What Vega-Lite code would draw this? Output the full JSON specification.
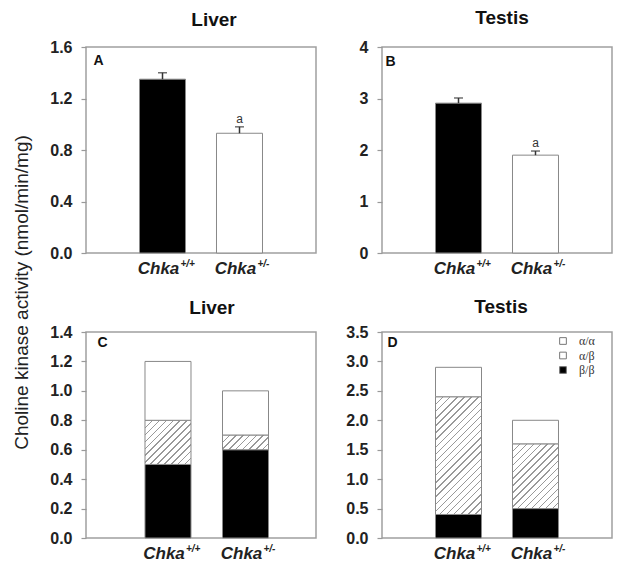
{
  "$schema": "https://vega.github.io/schema/vega-lite/v6.json",
  "background": "white",
  "padding": {"left": 11, "top": 8, "right": 0, "bottom": 0},
  "autosize": {"type": "pad"},
  "bounds": "flush",
  "columns": 2,
  "spacing": {"row": 79, "column": 66},
  "resolve": {
    "scale": {"x": "independent", "y": "independent", "fill": "independent"},
    "axis": {"x": "independent", "y": "independent"},
    "legend": {"fill": "independent"}
  },
  "config": {
    "font": "Liberation Sans",
    "view": {"stroke": "#a0a0a0", "strokeWidth": 1.5},
    "title": {"fontSize": 19, "fontWeight": "bold", "color": "#111", "baseline": "alphabetic", "frame": "group", "anchor": "middle"},
    "axis": {"domain": false, "grid": false, "labelFontWeight": "bold", "labelFontSize": 16, "labelColor": "#222", "tickColor": "#999", "tickWidth": 1.2, "tickSize": 5, "labelPadding": 9, "labelOverlap": false, "labelBound": false, "labelFlush": false},
    "axisX": {"ticks": false, "labelFontStyle": "italic", "labelFontSize": 17, "labelPadding": 7, "labelAngle": 0, "labelOffset": -4, "titleAlign": "left", "titleBaseline": "middle", "titleFontSize": 14, "titleFontWeight": "bold", "titleColor": "#111", "titleAngle": 0},
    "axisY": {"titleFontSize": 19, "titleFontWeight": "normal", "titleColor": "#222"}
  },
  "concat": [
    {
      "width": 230, "height": 206,
      "title": {"text": "Liver", "offset": 9, "dx": 13},
      "data": {"values": [
        {"genotype": "+/+", "activity": 1.35, "upper": 1.40, "sig": ""},
        {"genotype": "+/-", "activity": 0.93, "upper": 0.98, "sig": "a"}
      ]},
      "encoding": {"x": {"field": "genotype", "type": "nominal", "sort": ["+/+", "+/-"], "scale": {"paddingInner": 0.4026, "paddingOuter": 0.695}, "title": "A", "axis": {"labelExpr": "'Chka'", "titleX": 7, "titleY": -193}}},
      "layer": [
        {"mark": {"type": "bar", "stroke": "#888", "strokeWidth": 1},
         "encoding": {
           "y": {"field": "activity", "type": "quantitative", "scale": {"domain": [0, 1.6], "nice": false}, "title": "Choline kinase activity (nmol/min/mg)", "axis": {"values": [0, 0.4, 0.8, 1.2, 1.6], "tickCount": 10, "format": ".1f", "titleX": -65, "titleY": 245, "titleAngle": -90, "titleAlign": "center", "titleBaseline": "middle"}},
           "fill": {"field": "genotype", "type": "nominal", "scale": {"domain": ["+/+", "+/-"], "range": ["#000000", "#ffffff"]}, "legend": null}
         }},
        {"mark": {"type": "rule", "color": "#333", "strokeWidth": 1.5},
         "encoding": {"y": {"field": "activity", "type": "quantitative", "title": "Choline kinase activity (nmol/min/mg)"}, "y2": {"field": "upper"}}},
        {"mark": {"type": "tick", "color": "#333", "thickness": 1.5, "size": 9},
         "encoding": {"y": {"field": "upper", "type": "quantitative", "title": "Choline kinase activity (nmol/min/mg)"}}},
        {"mark": {"type": "text", "baseline": "bottom", "dy": -1, "fontSize": 12, "color": "#333"},
         "encoding": {"y": {"field": "upper", "type": "quantitative", "title": "Choline kinase activity (nmol/min/mg)"}, "text": {"field": "sig"}}},
        {"mark": {"type": "text", "align": "left", "baseline": "top", "dx": 18, "dy": 6, "fontSize": 10, "fontWeight": "bold", "fontStyle": "italic", "color": "#222"},
         "encoding": {"y": {"datum": 0, "title": "Choline kinase activity (nmol/min/mg)"}, "text": {"field": "genotype"}}}
      ]
    },
    {
      "width": 230, "height": 206,
      "title": {"text": "Testis", "offset": 11, "dx": 5},
      "data": {"values": [
        {"genotype": "+/+", "activity": 2.91, "upper": 3.01, "sig": ""},
        {"genotype": "+/-", "activity": 1.90, "upper": 1.98, "sig": "a"}
      ]},
      "encoding": {"x": {"field": "genotype", "type": "nominal", "sort": ["+/+", "+/-"], "scale": {"paddingInner": 0.4026, "paddingOuter": 0.695}, "title": "B", "axis": {"labelExpr": "'Chka'", "titleX": 3, "titleY": -192}}},
      "layer": [
        {"mark": {"type": "bar", "stroke": "#888", "strokeWidth": 1},
         "encoding": {
           "y": {"field": "activity", "type": "quantitative", "scale": {"domain": [0, 4], "nice": false}, "title": null, "axis": {"values": [0, 1, 2, 3, 4], "tickCount": 10, "format": "d"}},
           "fill": {"field": "genotype", "type": "nominal", "scale": {"domain": ["+/+", "+/-"], "range": ["#000000", "#ffffff"]}, "legend": null}
         }},
        {"mark": {"type": "rule", "color": "#333", "strokeWidth": 1.5},
         "encoding": {"y": {"field": "activity", "type": "quantitative", "title": null}, "y2": {"field": "upper"}}},
        {"mark": {"type": "tick", "color": "#333", "thickness": 1.5, "size": 9},
         "encoding": {"y": {"field": "upper", "type": "quantitative", "title": null}}},
        {"mark": {"type": "text", "baseline": "bottom", "dy": -1, "fontSize": 12, "color": "#333"},
         "encoding": {"y": {"field": "upper", "type": "quantitative", "title": null}, "text": {"field": "sig"}}},
        {"mark": {"type": "text", "align": "left", "baseline": "top", "dx": 18, "dy": 6, "fontSize": 10, "fontWeight": "bold", "fontStyle": "italic", "color": "#222"},
         "encoding": {"y": {"datum": 0, "title": null}, "text": {"field": "genotype"}}}
      ]
    },
    {
      "width": 230, "height": 206,
      "title": {"text": "Liver", "offset": 6, "dx": 11},
      "encoding": {"x": {"field": "genotype", "type": "nominal", "sort": ["+/+", "+/-"], "scale": {"paddingInner": 0.4065, "paddingOuter": 0.687, "align": 0.554}, "title": "C", "axis": {"labelExpr": "'Chka'", "titleX": 11, "titleY": -196}}},
      "layer": [
        {"data": {"values": [
          {"genotype": "+/+", "isoform": "β/β", "activity": 0.5},
          {"genotype": "+/+", "isoform": "α/β", "activity": 0.3},
          {"genotype": "+/+", "isoform": "α/α", "activity": 0.4},
          {"genotype": "+/-", "isoform": "β/β", "activity": 0.6},
          {"genotype": "+/-", "isoform": "α/β", "activity": 0.1},
          {"genotype": "+/-", "isoform": "α/α", "activity": 0.3}
        ]},
         "mark": {"type": "bar", "stroke": "#888", "strokeWidth": 1},
         "encoding": {
           "y": {"field": "activity", "type": "quantitative", "stack": "zero", "scale": {"domain": [0, 1.4], "nice": false}, "title": null, "axis": {"values": [0, 0.2, 0.4, 0.6, 0.8, 1.0, 1.2, 1.4], "tickCount": 10, "format": ".1f"}},
           "order": {"field": "isoform", "type": "nominal", "sort": "descending"},
           "fill": {"field": "isoform", "type": "nominal", "scale": {"domain": ["α/α", "α/β", "β/β"], "range": ["#ffffff", "#ffffff", "#000000"]}, "legend": null,
             "condition": [
               {"test": "datum.isoform === 'α/β' && datum.genotype === '+/+'", "value": {"gradient": "linear", "x1": 0, "y1": 0, "x2": 1.02, "y2": 0.979, "stops": [
                 {"offset": 0, "color": "#999"}, {"offset": 0.0154, "color": "#999"}, {"offset": 0.0154, "color": "#fff"}, {"offset": 0.0769, "color": "#fff"},
                 {"offset": 0.0769, "color": "#999"}, {"offset": 0.0923, "color": "#999"}, {"offset": 0.0923, "color": "#fff"}, {"offset": 0.1538, "color": "#fff"},
                 {"offset": 0.1538, "color": "#999"}, {"offset": 0.1692, "color": "#999"}, {"offset": 0.1692, "color": "#fff"}, {"offset": 0.2308, "color": "#fff"},
                 {"offset": 0.2308, "color": "#999"}, {"offset": 0.2462, "color": "#999"}, {"offset": 0.2462, "color": "#fff"}, {"offset": 0.3077, "color": "#fff"},
                 {"offset": 0.3077, "color": "#999"}, {"offset": 0.3231, "color": "#999"}, {"offset": 0.3231, "color": "#fff"}, {"offset": 0.3846, "color": "#fff"},
                 {"offset": 0.3846, "color": "#999"}, {"offset": 0.4, "color": "#999"}, {"offset": 0.4, "color": "#fff"}, {"offset": 0.4615, "color": "#fff"},
                 {"offset": 0.4615, "color": "#999"}, {"offset": 0.4769, "color": "#999"}, {"offset": 0.4769, "color": "#fff"}, {"offset": 0.5385, "color": "#fff"},
                 {"offset": 0.5385, "color": "#999"}, {"offset": 0.5538, "color": "#999"}, {"offset": 0.5538, "color": "#fff"}, {"offset": 0.6154, "color": "#fff"},
                 {"offset": 0.6154, "color": "#999"}, {"offset": 0.6308, "color": "#999"}, {"offset": 0.6308, "color": "#fff"}, {"offset": 0.6923, "color": "#fff"},
                 {"offset": 0.6923, "color": "#999"}, {"offset": 0.7077, "color": "#999"}, {"offset": 0.7077, "color": "#fff"}, {"offset": 0.7692, "color": "#fff"},
                 {"offset": 0.7692, "color": "#999"}, {"offset": 0.7846, "color": "#999"}, {"offset": 0.7846, "color": "#fff"}, {"offset": 0.8462, "color": "#fff"},
                 {"offset": 0.8462, "color": "#999"}, {"offset": 0.8615, "color": "#999"}, {"offset": 0.8615, "color": "#fff"}, {"offset": 0.9231, "color": "#fff"},
                 {"offset": 0.9231, "color": "#999"}, {"offset": 0.9385, "color": "#999"}, {"offset": 0.9385, "color": "#fff"}, {"offset": 1, "color": "#fff"}
               ]}},
               {"test": "datum.isoform === 'α/β' && datum.genotype === '+/-'", "value": {"gradient": "linear", "x1": 0, "y1": 0, "x2": 1.197, "y2": 0.383, "stops": [
                 {"offset": 0, "color": "#999"}, {"offset": 0.0222, "color": "#999"}, {"offset": 0.0222, "color": "#fff"}, {"offset": 0.1111, "color": "#fff"},
                 {"offset": 0.1111, "color": "#999"}, {"offset": 0.1333, "color": "#999"}, {"offset": 0.1333, "color": "#fff"}, {"offset": 0.2222, "color": "#fff"},
                 {"offset": 0.2222, "color": "#999"}, {"offset": 0.2444, "color": "#999"}, {"offset": 0.2444, "color": "#fff"}, {"offset": 0.3333, "color": "#fff"},
                 {"offset": 0.3333, "color": "#999"}, {"offset": 0.3556, "color": "#999"}, {"offset": 0.3556, "color": "#fff"}, {"offset": 0.4444, "color": "#fff"},
                 {"offset": 0.4444, "color": "#999"}, {"offset": 0.4667, "color": "#999"}, {"offset": 0.4667, "color": "#fff"}, {"offset": 0.5556, "color": "#fff"},
                 {"offset": 0.5556, "color": "#999"}, {"offset": 0.5778, "color": "#999"}, {"offset": 0.5778, "color": "#fff"}, {"offset": 0.6667, "color": "#fff"},
                 {"offset": 0.6667, "color": "#999"}, {"offset": 0.6889, "color": "#999"}, {"offset": 0.6889, "color": "#fff"}, {"offset": 0.7778, "color": "#fff"},
                 {"offset": 0.7778, "color": "#999"}, {"offset": 0.8, "color": "#999"}, {"offset": 0.8, "color": "#fff"}, {"offset": 0.8889, "color": "#fff"},
                 {"offset": 0.8889, "color": "#999"}, {"offset": 0.9111, "color": "#999"}, {"offset": 0.9111, "color": "#fff"}, {"offset": 1, "color": "#fff"}
               ]}}
             ]}
         }},
        {"data": {"values": [{"genotype": "+/+"}, {"genotype": "+/-"}]},
         "mark": {"type": "text", "align": "left", "baseline": "top", "dx": 18, "dy": 6, "fontSize": 10, "fontWeight": "bold", "fontStyle": "italic", "color": "#222"},
         "encoding": {"y": {"datum": 0, "title": null}, "text": {"field": "genotype"}}}
      ]
    },
    {
      "width": 230, "height": 206,
      "title": {"text": "Testis", "offset": 7, "dx": 4},
      "encoding": {"x": {"field": "genotype", "type": "nominal", "sort": ["+/+", "+/-"], "scale": {"paddingInner": 0.4026, "paddingOuter": 0.695}, "title": "D", "axis": {"labelExpr": "'Chka'", "titleX": 5, "titleY": -196}}},
      "layer": [
        {"data": {"values": [
          {"genotype": "+/+", "isoform": "β/β", "activity": 0.4},
          {"genotype": "+/+", "isoform": "α/β", "activity": 2.0},
          {"genotype": "+/+", "isoform": "α/α", "activity": 0.5},
          {"genotype": "+/-", "isoform": "β/β", "activity": 0.5},
          {"genotype": "+/-", "isoform": "α/β", "activity": 1.1},
          {"genotype": "+/-", "isoform": "α/α", "activity": 0.4}
        ]},
         "mark": {"type": "bar", "stroke": "#888", "strokeWidth": 1},
         "encoding": {
           "y": {"field": "activity", "type": "quantitative", "stack": "zero", "scale": {"domain": [0, 3.5], "nice": false}, "title": null, "axis": {"values": [0, 0.5, 1.0, 1.5, 2.0, 2.5, 3.0, 3.5], "tickCount": 10, "format": ".1f"}},
           "order": {"field": "isoform", "type": "nominal", "sort": "descending"},
           "fill": {"field": "isoform", "type": "nominal", "scale": {"domain": ["α/α", "α/β", "β/β"], "range": ["#ffffff", "#ffffff", "#000000"]},
             "legend": {"orient": "none", "legendX": 175, "legendY": 3, "title": null, "symbolType": "square", "symbolSize": 45, "symbolStrokeColor": "#777", "symbolStrokeWidth": 1, "labelFont": "Liberation Serif", "labelFontSize": 12, "labelOffset": 10, "rowPadding": 2.5, "padding": 0, "labelColor": "#333"},
             "condition": [
               {"test": "datum.isoform === 'α/β' && datum.genotype === '+/+'", "value": {"gradient": "linear", "x1": 0, "y1": 0, "x2": 0.4715, "y2": 1.2065, "stops": [
                 {"offset": 0, "color": "#999"}, {"offset": 0.0087, "color": "#999"}, {"offset": 0.0087, "color": "#fff"}, {"offset": 0.0435, "color": "#fff"},
                 {"offset": 0.0435, "color": "#999"}, {"offset": 0.0522, "color": "#999"}, {"offset": 0.0522, "color": "#fff"}, {"offset": 0.087, "color": "#fff"},
                 {"offset": 0.087, "color": "#999"}, {"offset": 0.0957, "color": "#999"}, {"offset": 0.0957, "color": "#fff"}, {"offset": 0.1304, "color": "#fff"},
                 {"offset": 0.1304, "color": "#999"}, {"offset": 0.1391, "color": "#999"}, {"offset": 0.1391, "color": "#fff"}, {"offset": 0.1739, "color": "#fff"},
                 {"offset": 0.1739, "color": "#999"}, {"offset": 0.1826, "color": "#999"}, {"offset": 0.1826, "color": "#fff"}, {"offset": 0.2174, "color": "#fff"},
                 {"offset": 0.2174, "color": "#999"}, {"offset": 0.2261, "color": "#999"}, {"offset": 0.2261, "color": "#fff"}, {"offset": 0.2609, "color": "#fff"},
                 {"offset": 0.2609, "color": "#999"}, {"offset": 0.2696, "color": "#999"}, {"offset": 0.2696, "color": "#fff"}, {"offset": 0.3043, "color": "#fff"},
                 {"offset": 0.3043, "color": "#999"}, {"offset": 0.313, "color": "#999"}, {"offset": 0.313, "color": "#fff"}, {"offset": 0.3478, "color": "#fff"},
                 {"offset": 0.3478, "color": "#999"}, {"offset": 0.3565, "color": "#999"}, {"offset": 0.3565, "color": "#fff"}, {"offset": 0.3913, "color": "#fff"},
                 {"offset": 0.3913, "color": "#999"}, {"offset": 0.4, "color": "#999"}, {"offset": 0.4, "color": "#fff"}, {"offset": 0.4348, "color": "#fff"},
                 {"offset": 0.4348, "color": "#999"}, {"offset": 0.4435, "color": "#999"}, {"offset": 0.4435, "color": "#fff"}, {"offset": 0.4783, "color": "#fff"},
                 {"offset": 0.4783, "color": "#999"}, {"offset": 0.487, "color": "#999"}, {"offset": 0.487, "color": "#fff"}, {"offset": 0.5217, "color": "#fff"},
                 {"offset": 0.5217, "color": "#999"}, {"offset": 0.5304, "color": "#999"}, {"offset": 0.5304, "color": "#fff"}, {"offset": 0.5652, "color": "#fff"},
                 {"offset": 0.5652, "color": "#999"}, {"offset": 0.5739, "color": "#999"}, {"offset": 0.5739, "color": "#fff"}, {"offset": 0.6087, "color": "#fff"},
                 {"offset": 0.6087, "color": "#999"}, {"offset": 0.6174, "color": "#999"}, {"offset": 0.6174, "color": "#fff"}, {"offset": 0.6522, "color": "#fff"},
                 {"offset": 0.6522, "color": "#999"}, {"offset": 0.6609, "color": "#999"}, {"offset": 0.6609, "color": "#fff"}, {"offset": 0.6957, "color": "#fff"},
                 {"offset": 0.6957, "color": "#999"}, {"offset": 0.7044, "color": "#999"}, {"offset": 0.7044, "color": "#fff"}, {"offset": 0.7391, "color": "#fff"},
                 {"offset": 0.7391, "color": "#999"}, {"offset": 0.7478, "color": "#999"}, {"offset": 0.7478, "color": "#fff"}, {"offset": 0.7826, "color": "#fff"},
                 {"offset": 0.7826, "color": "#999"}, {"offset": 0.7913, "color": "#999"}, {"offset": 0.7913, "color": "#fff"}, {"offset": 0.8261, "color": "#fff"},
                 {"offset": 0.8261, "color": "#999"}, {"offset": 0.8348, "color": "#999"}, {"offset": 0.8348, "color": "#fff"}, {"offset": 0.8696, "color": "#fff"},
                 {"offset": 0.8696, "color": "#999"}, {"offset": 0.8783, "color": "#999"}, {"offset": 0.8783, "color": "#fff"}, {"offset": 0.913, "color": "#fff"},
                 {"offset": 0.913, "color": "#999"}, {"offset": 0.9217, "color": "#999"}, {"offset": 0.9217, "color": "#fff"}, {"offset": 0.9565, "color": "#fff"},
                 {"offset": 0.9565, "color": "#999"}, {"offset": 0.9652, "color": "#999"}, {"offset": 0.9652, "color": "#fff"}, {"offset": 1, "color": "#fff"}
               ]}},
               {"test": "datum.isoform === 'α/β' && datum.genotype === '+/-'", "value": {"gradient": "linear", "x1": 0, "y1": 0, "x2": 0.8077, "y2": 1.1367, "stops": [
                 {"offset": 0, "color": "#999"}, {"offset": 0.0125, "color": "#999"}, {"offset": 0.0125, "color": "#fff"}, {"offset": 0.0625, "color": "#fff"},
                 {"offset": 0.0625, "color": "#999"}, {"offset": 0.075, "color": "#999"}, {"offset": 0.075, "color": "#fff"}, {"offset": 0.125, "color": "#fff"},
                 {"offset": 0.125, "color": "#999"}, {"offset": 0.1375, "color": "#999"}, {"offset": 0.1375, "color": "#fff"}, {"offset": 0.1875, "color": "#fff"},
                 {"offset": 0.1875, "color": "#999"}, {"offset": 0.2, "color": "#999"}, {"offset": 0.2, "color": "#fff"}, {"offset": 0.25, "color": "#fff"},
                 {"offset": 0.25, "color": "#999"}, {"offset": 0.2625, "color": "#999"}, {"offset": 0.2625, "color": "#fff"}, {"offset": 0.3125, "color": "#fff"},
                 {"offset": 0.3125, "color": "#999"}, {"offset": 0.325, "color": "#999"}, {"offset": 0.325, "color": "#fff"}, {"offset": 0.375, "color": "#fff"},
                 {"offset": 0.375, "color": "#999"}, {"offset": 0.3875, "color": "#999"}, {"offset": 0.3875, "color": "#fff"}, {"offset": 0.4375, "color": "#fff"},
                 {"offset": 0.4375, "color": "#999"}, {"offset": 0.45, "color": "#999"}, {"offset": 0.45, "color": "#fff"}, {"offset": 0.5, "color": "#fff"},
                 {"offset": 0.5, "color": "#999"}, {"offset": 0.5125, "color": "#999"}, {"offset": 0.5125, "color": "#fff"}, {"offset": 0.5625, "color": "#fff"},
                 {"offset": 0.5625, "color": "#999"}, {"offset": 0.575, "color": "#999"}, {"offset": 0.575, "color": "#fff"}, {"offset": 0.625, "color": "#fff"},
                 {"offset": 0.625, "color": "#999"}, {"offset": 0.6375, "color": "#999"}, {"offset": 0.6375, "color": "#fff"}, {"offset": 0.6875, "color": "#fff"},
                 {"offset": 0.6875, "color": "#999"}, {"offset": 0.7, "color": "#999"}, {"offset": 0.7, "color": "#fff"}, {"offset": 0.75, "color": "#fff"},
                 {"offset": 0.75, "color": "#999"}, {"offset": 0.7625, "color": "#999"}, {"offset": 0.7625, "color": "#fff"}, {"offset": 0.8125, "color": "#fff"},
                 {"offset": 0.8125, "color": "#999"}, {"offset": 0.825, "color": "#999"}, {"offset": 0.825, "color": "#fff"}, {"offset": 0.875, "color": "#fff"},
                 {"offset": 0.875, "color": "#999"}, {"offset": 0.8875, "color": "#999"}, {"offset": 0.8875, "color": "#fff"}, {"offset": 0.9375, "color": "#fff"},
                 {"offset": 0.9375, "color": "#999"}, {"offset": 0.95, "color": "#999"}, {"offset": 0.95, "color": "#fff"}, {"offset": 1, "color": "#fff"}
               ]}}
             ]}
         }},
        {"data": {"values": [{"genotype": "+/+"}, {"genotype": "+/-"}]},
         "mark": {"type": "text", "align": "left", "baseline": "top", "dx": 18, "dy": 6, "fontSize": 10, "fontWeight": "bold", "fontStyle": "italic", "color": "#222"},
         "encoding": {"y": {"datum": 0, "title": null}, "text": {"field": "genotype"}}}
      ]
    }
  ]
}
